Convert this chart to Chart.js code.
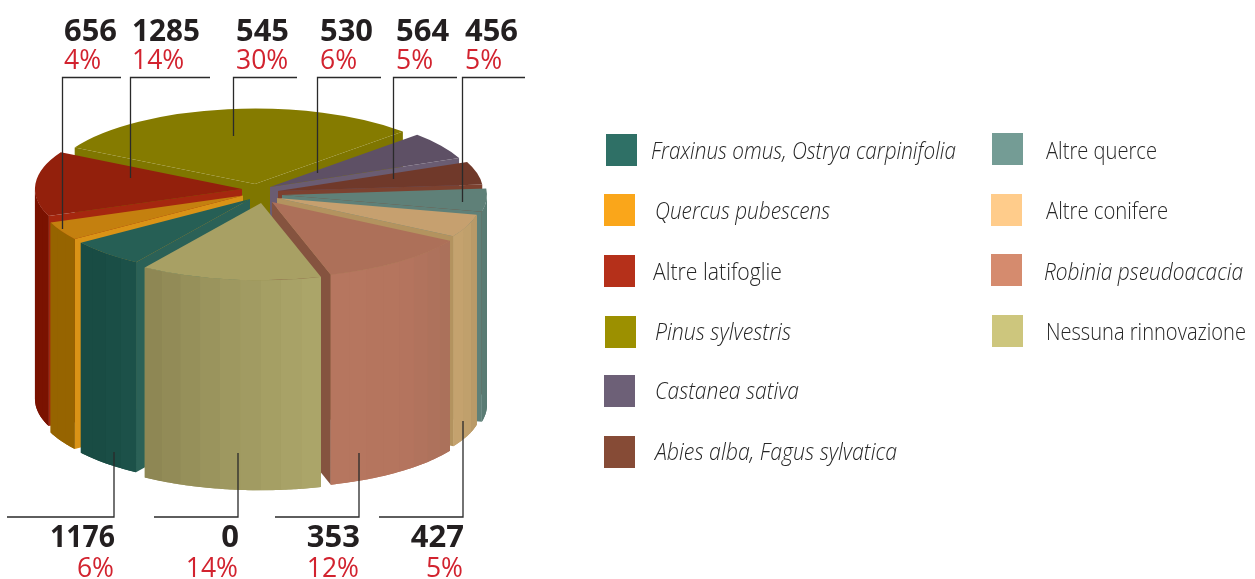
<!DOCTYPE html>
<html><head><meta charset="utf-8">
<style>html,body{margin:0;padding:0;background:#fff}#w{width:1255px;height:579px;position:relative}</style>
<script src="https://cdn.jsdelivr.net/npm/chart.js@4"></script>
</head><body><div id="w"><canvas id="c" width="1255" height="579"></canvas></div>
<script>
// ---- data ----
const categories = ['Fraxinus omus, Ostrya carpinifolia','Quercus pubescens','Altre latifoglie','Pinus sylvestris','Castanea sativa','Abies alba, Fagus sylvatica','Altre querce','Altre conifere','Robinia pseudoacacia','Nessuna rinnovazione'];
const shares = [6,4,14,30,6,5,5,5,12,14];
const counts = [1176,656,1285,545,530,564,456,427,353,0];
// ---- styles ----
const legendColors = ['#2F7066','#FAA61A','#B5301A','#9C9000','#6D6077','#864B36','#749C95','#FFCC8B','#D58B6E','#CDC67D'];
const topColors = ['#265F55','#C4800F','#93200C','#857B00','#5E5065','#70392A','#5F8078','#C6A06F','#AD7059','#A8A064'];
const faceColors = ['#2B6157','#DA9316','#A5270F','#7F7600','#6A5C72','#7C412F','#5F8078','#B3935F','#85533F','#A8A064'];
const wallColors = [['#1D524A','#194C44','#194C44'],['#966400','#966400','#966400'],['#7A1200','#7A1200','#7A1200'],['#857B00','#857B00','#857B00'],['#5E5065','#5E5065','#5E5065'],['#70392A','#70392A','#70392A'],['#557A72','#5A7C74','#5A7C74'],['#B69766','#C0A06C','#C6A36F'],['#A9705A','#B5755E','#B6765F'],['#ADA76A','#9E9860','#8C8553']];
// screen shift of each slice's apex from the pie centre, and its size factor
const shiftX = [-12,-19,-20,-7,8,16,20,15,10,-1];
const shiftY = [5,1.5,-5,-10,-7,-3,1,4,8,9];
const sizeFactor = [1.01,1.005,1.01,1.005,1,1,1,1,1.01,1.03];
const radius = 205, squash = 0.366, wallHeight = 210;
const italic = [true,true,false,true,true,true,false,false,true,false];
const legendBoxes = [[606,134],[604,194],[604,255],[605,316],[604,375],[604,436],[992,133],[991,194],[991,254],[992,315]];
const legendText = [[651,152,305],[655,212,175],[653,273,129],[655,333,136],[655,392,144],[655,453,242],[1046,152,111],[1046,212,122],[1044,273,199],[1046,333,200]];
// label: [slice index, text x, x1, x2, yEnd, number width]
const topLabels = [[1,64,62.5,121,229,53],[2,132,130.5,210,178,68],[3,236,233.5,297,136,53],[4,320,317.5,381,173,53],[5,396,393.5,457,179,54],[6,465,462.5,525,202,53]];
const bottomLabels = [[0,115,7,114,452,65],[9,239,154,238,453,20],[8,360,275,359,453,54],[7,464,379,463,421,54]];

function hex(c){return [1,3,5].map(i=>parseInt(c.substr(i,2),16));}
function mix(a,b,t){const x=hex(a),y=hex(b);return 'rgb('+x.map((v,i)=>Math.round(v+(y[i]-v)*t)).join(',')+')';}
function ramp(stops,t){const p=t*(stops.length-1),i=Math.min(Math.floor(p),stops.length-2);return mix(stops[i],stops[i+1],p-i);}

const pie3d = {
  id:'pie3d',
  beforeDatasetDraw(chart,args){
    const ctx=chart.ctx, arcs=args.meta.data, TAU=Math.PI*2;
    const order=arcs.map((a,i)=>i).sort((p,q)=>Math.sin((arcs[p].startAngle+arcs[p].endAngle)/2)-Math.sin((arcs[q].startAngle+arcs[q].endAngle)/2));
    for(const i of order){
      const arc=arcs[i]; let s=arc.startAngle%TAU; if(s<0)s+=TAU; const e=s+(arc.endAngle-arc.startAngle);
      const cx=arc.x+shiftX[i], cy=arc.y+shiftY[i], f=sizeFactor[i], R=arc.outerRadius*f;
      const pt=(a,h)=>[cx+R*Math.cos(a),cy+R*squash*Math.sin(a)+h];
      const band=(a0,a1,fill)=>{
        ctx.beginPath();
        for(let j=0;j<=8;j++){const p=pt(a0+(a1-a0)*j/8,0);j?ctx.lineTo(p[0],p[1]):ctx.moveTo(p[0],p[1]);}
        for(let j=8;j>=0;j--){const p=pt(a0+(a1-a0)*j/8,wallHeight);ctx.lineTo(p[0],p[1]);}
        ctx.closePath();ctx.fillStyle=fill;ctx.fill();
      };
      const face=(a)=>{const p=pt(a,0),q=pt(a,wallHeight);
        ctx.beginPath();ctx.moveTo(cx,cy);ctx.lineTo(p[0],p[1]);ctx.lineTo(q[0],q[1]);ctx.lineTo(cx,cy+wallHeight);ctx.closePath();
        ctx.fillStyle=faceColors[i];ctx.fill();};
      if(Math.cos(s)<0)face(s);
      if(Math.cos(e)>0)face(e);
      for(const base of [0,TAU]){
        const a0=Math.max(s,base),a1=Math.min(e,base+Math.PI);
        if(a1<=a0)continue;
        band(a0,a1,ramp(wallColors[i],0.5));
        const n=Math.max(1,Math.round((a1-a0)/(Math.PI/32)));
        for(let k=0;k<n;k++){
          band(a0+(a1-a0)*k/n,a0+(a1-a0)*(k+1)/n,ramp(wallColors[i],(k+0.5)/n));
        }
      }
      ctx.save();
      ctx.translate(cx,cy);ctx.scale(f,squash*f);ctx.translate(-arc.x,-arc.y);
      arc.draw(ctx);
      ctx.restore();
    }
    return false;
  },
  afterDraw(chart){
    const ctx=chart.ctx;
    ctx.save();
    ctx.strokeStyle='#2a2a2a';ctx.lineWidth=1.3;
    for(const [,,x1,x2,yEnd] of topLabels){ctx.beginPath();ctx.moveTo(x2,77.5);ctx.lineTo(x1,77.5);ctx.lineTo(x1,yEnd);ctx.stroke();}
    for(const [,,x1,x2,yEnd] of bottomLabels){ctx.beginPath();ctx.moveTo(x1,517);ctx.lineTo(x2,517);ctx.lineTo(x2,yEnd);ctx.stroke();}
    ctx.textBaseline='alphabetic';
    const num='bold 31px "Open Sans"', pct='26.5px "Open Sans"';
    ctx.textAlign='left';
    for(const [i,x,,,,w] of topLabels){
      ctx.font=num;ctx.fillStyle='#231f20';ctx.fillText(String(counts[i]),x,41,w);
      ctx.font=pct;ctx.fillStyle='#d2232f';ctx.fillText(shares[i]+'%',x,69);
    }
    ctx.textAlign='right';
    for(const [i,x,,,,w] of bottomLabels){
      ctx.font=num;ctx.fillStyle='#231f20';ctx.fillText(String(counts[i]),x,547,w);
      ctx.font=pct;ctx.fillStyle='#d2232f';ctx.fillText(shares[i]+'%',x-1,577);
    }
    ctx.textAlign='left';ctx.textBaseline='middle';
    categories.forEach((name,i)=>{
      const [bx,by]=legendBoxes[i];
      ctx.fillStyle=legendColors[i];ctx.fillRect(bx,by,31,32);
      const [tx,ty,tw]=legendText[i];
      ctx.font=(italic[i]?'italic ':'')+'300 24px "Open Sans"';
      ctx.fillStyle='#262626';
      ctx.fillText(name,tx,ty,tw);
    });
    ctx.restore();
  }
};

new Chart(document.getElementById('c'),{
  type:'pie',
  data:{labels:categories,datasets:[{data:shares,backgroundColor:topColors,borderWidth:0,radius:radius}]},
  options:{
    responsive:false,animation:false,rotation:213.4,
    layout:{padding:{left:0,top:0,right:1255-524,bottom:579-388}},
    plugins:{legend:{display:false},tooltip:{enabled:false}}
  },
  plugins:[pie3d]
});
</script></body></html>
